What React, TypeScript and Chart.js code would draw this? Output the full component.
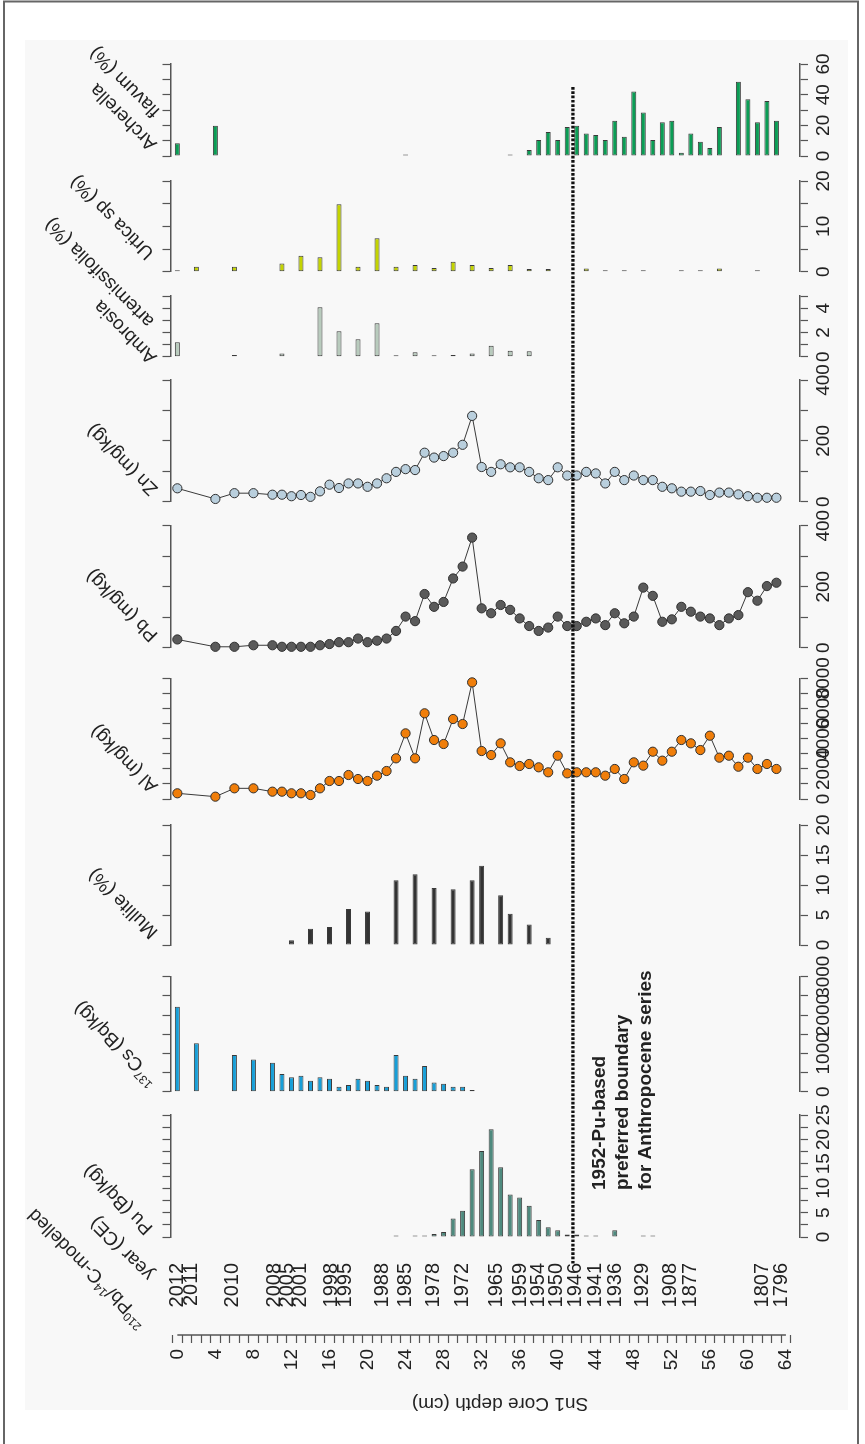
import React, { useEffect, useRef } from 'react';
import { Chart, registerables } from 'chart.js';

Chart.register(...registerables);

const FONT = '"Liberation Sans", Arial, Helvetica, sans-serif';
const TXT = '#222';
const AXIS = '#555';

// ---------------- data ----------------
// sample depths (cm) of the geochemical series (Zn, Pb, Al)
const geoDepths = [0, 4, 6, 8, 10, 11, 12, 13, 14, 15, 16, 17, 18, 19, 20, 21, 22, 23, 24, 25, 26, 27, 28, 29, 30, 31, 32, 33, 34, 35, 36, 37, 38, 39, 40, 41, 42, 43, 44, 45, 46, 47, 48, 49, 50, 51, 52, 53, 54, 55, 56, 57, 58, 59, 60, 61, 62, 63];
const znValues = [44, 9, 28, 28, 23, 23, 18, 22, 16, 34, 56, 45, 60, 60, 49, 60, 77, 98, 107, 104, 161, 145, 150, 161, 187, 282, 114, 98, 123, 113, 113, 98, 77, 71, 113, 86, 86, 98, 93, 60, 98, 71, 86, 71, 71, 49, 44, 33, 33, 35, 22, 30, 30, 24, 18, 13, 13, 13];
const pbValues = [27, 3, 3, 8, 8, 3, 3, 3, 3, 8, 12, 18, 18, 30, 18, 23, 30, 55, 102, 87, 176, 134, 150, 227, 266, 361, 129, 113, 140, 124, 96, 71, 55, 66, 102, 71, 71, 85, 96, 74, 113, 80, 102, 197, 170, 85, 93, 134, 118, 102, 96, 74, 96, 107, 182, 154, 202, 213];
const alValues = [378, 155, 707, 707, 486, 486, 378, 378, 265, 707, 1193, 1193, 1590, 1325, 1193, 1546, 1855, 2695, 4350, 2695, 5680, 3910, 3645, 5300, 4970, 7730, 3180, 2915, 3690, 2430, 2187, 2320, 2100, 1770, 2870, 1700, 1770, 1770, 1770, 1546, 1990, 1325, 2430, 2210, 3135, 2540, 3135, 3910, 3690, 3245, 4195, 2740, 2870, 2140, 2740, 1990, 2320, 1990];

const archDepths = [0, 4, 24, 35, 37, 38, 39, 40, 41, 42, 43, 44, 45, 46, 47, 48, 49, 50, 51, 52, 53, 54, 55, 56, 57, 59, 60, 61, 62, 63];
const archValues = [8.3, 19.8, 0, 0, 3.9, 10.4, 15.7, 10.4, 18.9, 19.8, 14.6, 13.7, 10.4, 23, 12.6, 42, 28.3, 10.4, 22, 23, 2.2, 14.6, 9.3, 5.2, 18.9, 48.5, 37, 22, 35.9, 23];

const urtDepths = [0, 2, 6, 11, 13, 15, 17, 19, 21, 23, 25, 27, 29, 31, 33, 35, 37, 39, 43, 45, 47, 49, 53, 55, 57, 61];
const urtValues = [0, 1.1, 1.1, 1.8, 3.5, 3.2, 14.9, 1.1, 7.4, 1.1, 1.5, 0.8, 2.2, 1.5, 0.8, 1.5, 0.6, 0.6, 0.7, 0, 0, 0, 0, 0, 0.7, 0];

const ambDepths = [0, 6, 11, 15, 17, 19, 21, 23, 25, 27, 29, 31, 33, 35, 37];
const ambValues = [1.18, 0.14, 0.27, 4.07, 2.1, 1.43, 2.75, 0, 0.36, 0, 0.14, 0.27, 0.9, 0.5, 0.45];

const mulDepths = [12, 14, 16, 18, 20, 23, 25, 27, 29, 31, 32, 34, 35, 37, 39];
const mulValues = [0.8, 2.7, 3, 6, 5.6, 10.8, 11.8, 9.5, 9.3, 10.8, 13.2, 8.3, 5.2, 3.4, 1.2];

const csDepths = [0, 2, 6, 8, 10, 11, 12, 13, 14, 15, 16, 17, 18, 19, 20, 21, 22, 23, 24, 25, 26, 27, 28, 29, 30, 31];
const csValues = [2217, 1261, 957, 843, 757, 461, 374, 417, 287, 374, 339, 130, 174, 339, 287, 174, 130, 957, 417, 339, 670, 243, 209, 130, 130, 43];

const puDepths = [23, 25, 26, 27, 28, 29, 30, 31, 32, 33, 34, 35, 36, 37, 38, 39, 40, 41, 42, 43, 44, 46, 49, 50];
const puValues = [0, 0, 0.2, 0.6, 1.0, 3.8, 5.4, 13.9, 17.6, 22.1, 14.3, 8.7, 8.1, 6.4, 3.5, 2.0, 1.4, 0.5, 0.5, 0.2, 0, 1.4, 0.2, 0.2];

// modelled ages and the depth they are written at
const yearLabels = ['2012', '2011', '2010', '2008', '2005', '2001', '1998', '1995', '1988', '1985', '1978', '1972', '1965', '1959', '1954', '1950', '1946', '1941', '1936', '1929', '1908', '1877', '1807', '1796'];
const yearDepths = [0, 1.45, 5.8, 10.2, 11.6, 13.0, 16.2, 17.7, 21.6, 24.0, 26.95, 30.0, 33.6, 36.1, 38.0, 39.9, 41.9, 44.0, 46.1, 48.9, 51.9, 54.0, 61.5, 63.5];

// depth axis ticks
const depthTicks = [0, 1, 2, 3, 4, 5, 6, 7, 8, 9, 10, 11, 12, 13, 14, 15, 16, 17, 18, 19, 20, 21, 22, 23, 24, 25, 26, 27, 28, 29, 30, 31, 32, 33, 34, 35, 36, 37, 38, 39, 40, 41, 42, 43, 44, 45, 46, 47, 48, 49, 50, 51, 52, 53, 54, 55, 56, 57, 58, 59, 60, 61, 62, 63, 64];
const depthLabels = [0, 4, 8, 12, 16, 20, 24, 28, 32, 36, 40, 44, 48, 52, 56, 60, 64];

const boundaryDepth = 41.6;

// ---------------- layout (pixels) ----------------
const X_LEFT = 170.5;
const X_RIGHT = 800;
const X_MIN = -0.72;
const X_MAX = 65.48;

const panels = [
  { id: 'arch', min: 0, max: 60, step: 10, labelStep: 20, top: 64, bottom: 156 },
  { id: 'urt', min: 0, max: 20, step: 5, labelStep: 10, top: 181, bottom: 271.7 },
  { id: 'amb', min: 0, max: 5, step: 1, labelStep: 2, top: 296, bottom: 356.7 },
  { id: 'zn', min: 0, max: 400, step: 100, labelStep: 200, top: 380, bottom: 501.7 },
  { id: 'pb', min: 0, max: 400, step: 100, labelStep: 200, top: 525.7, bottom: 647.7 },
  { id: 'al', min: 0, max: 8000, step: 1000, labelStep: 2000, top: 678.3, bottom: 799 },
  { id: 'mul', min: 0, max: 20, step: 5, labelStep: 5, top: 825, bottom: 945 },
  { id: 'cs', min: 0, max: 3000, step: 500, labelStep: 1000, top: 976.7, bottom: 1091.7 },
  { id: 'pu', min: 0, max: 25, step: 2.5, labelStep: 5, top: 1115, bottom: 1237 },
];

type Seg = { t: string; sup?: boolean };
const titles: { x: number; y: number; segs: Seg[] }[] = [
  { x: 154, y: 147, segs: [{ t: 'Archerella' }] },
  { x: 157, y: 114, segs: [{ t: 'flavum (%)' }] },
  { x: 151, y: 256, segs: [{ t: 'Urtica sp (%)' }] },
  { x: 154, y: 360, segs: [{ t: 'Ambrosia' }] },
  { x: 151, y: 324, segs: [{ t: 'artemissifolia (%)' }] },
  { x: 155, y: 492, segs: [{ t: 'Zn (mg/kg)' }] },
  { x: 155, y: 638, segs: [{ t: 'Pb (mg/kg)' }] },
  { x: 155, y: 789, segs: [{ t: 'Al (mg/kg)' }] },
  { x: 155, y: 935, segs: [{ t: 'Mullite (%)' }] },
  { x: 155, y: 1082, segs: [{ t: '137', sup: true }, { t: 'Cs (Bq/kg)' }] },
  { x: 150, y: 1231, segs: [{ t: 'Pu (Bq/kg)' }] },
  { x: 151, y: 1277, segs: [{ t: 'year (CE)' }] },
  { x: 144, y: 1324, segs: [{ t: '210', sup: true }, { t: 'Pb/' }, { t: '14', sup: true }, { t: 'C-modelled' }] },
];

const noteLines = ['1952-Pu-based', 'preferred boundary', 'for Anthropocene series'];

// ---------------- helpers ----------------
function setBox(s: any, l: number, r: number, t: number, b: number) {
  s.left = l; s.right = r; s.top = t; s.bottom = b;
  s.width = r - l; s.height = b - t;
  s.configure();
  s._gridLineItems = null;
  s._labelItems = null;
}

function richText(ctx: CanvasRenderingContext2D, segs: Seg[], x: number, y: number, angle: number, size: number) {
  ctx.save();
  ctx.translate(x, y);
  ctx.rotate(angle);
  ctx.textAlign = 'left';
  ctx.textBaseline = 'middle';
  ctx.fillStyle = TXT;
  let cx = 0;
  for (const s of segs) {
    const fs = s.sup ? Math.round(size * 0.62) : size;
    ctx.font = `${fs}px ${FONT}`;
    ctx.fillText(s.t, cx, s.sup ? -size * 0.32 : 0);
    cx += ctx.measureText(s.t).width;
  }
  ctx.restore();
}

const decorPlugin = {
  id: 'decor',
  afterLayout(chart: any) {
    setBox(chart.scales.x, X_LEFT, X_RIGHT, 1335, 1400);
    setBox(chart.scales.years, X_LEFT, X_RIGHT, 1263, 1310);
    panels.forEach((p) => {
      setBox(chart.scales[p.id + 'L'], X_LEFT - 10, X_LEFT, p.top, p.bottom);
      setBox(chart.scales[p.id + 'R'], X_RIGHT, X_RIGHT + 10, p.top, p.bottom);
    });
  },
  beforeDraw(chart: any) {
    const ctx: CanvasRenderingContext2D = chart.ctx;
    ctx.save();
    ctx.fillStyle = '#ffffff';
    ctx.fillRect(0, 0, chart.width, chart.height);
    ctx.fillStyle = '#f8f8f8';
    ctx.fillRect(25, 40, 823, 1370);
    ctx.strokeStyle = '#666';
    ctx.lineWidth = 2;
    ctx.strokeRect(4, 1.5, 854, 1450);
    ctx.restore();
  },
  afterDraw(chart: any) {
    const ctx: CanvasRenderingContext2D = chart.ctx;
    const xs = chart.scales.x;
    ctx.save();
    // right-hand value labels
    ctx.fillStyle = TXT;
    ctx.font = `19px ${FONT}`;
    ctx.textAlign = 'center';
    ctx.textBaseline = 'middle';
    panels.forEach((p) => {
      const s = chart.scales[p.id + 'R'];
      s.ticks.forEach((t: any) => {
        const q = t.value / p.labelStep;
        if (Math.abs(q - Math.round(q)) > 1e-6) return;
        const y = s.getPixelForValue(t.value);
        ctx.save();
        ctx.translate(s.left + 23.5, y);
        ctx.rotate(-Math.PI / 2);
        ctx.fillText(String(t.value), 0, 0);
        ctx.restore();
      });
    });
    // depth axis line
    ctx.strokeStyle = AXIS;
    ctx.lineWidth = 1.5;
    ctx.beginPath();
    ctx.moveTo(xs.getPixelForValue(depthTicks[0]), 1335);
    ctx.lineTo(xs.getPixelForValue(depthTicks[depthTicks.length - 1]), 1335);
    ctx.stroke();
    // depth axis title (upside down)
    ctx.save();
    ctx.translate(500, 1403);
    ctx.rotate(Math.PI);
    ctx.font = `19px ${FONT}`;
    ctx.textAlign = 'center';
    ctx.textBaseline = 'middle';
    ctx.fillText('Sn1 Core depth (cm)', 0, 0);
    ctx.restore();
    // panel titles
    titles.forEach((tt) => richText(ctx, tt.segs, tt.x, tt.y, -3 * Math.PI / 4, 19));
    // boundary line
    const bx = xs.getPixelForValue(boundaryDepth);
    ctx.strokeStyle = '#111';
    ctx.lineWidth = 3.3;
    ctx.setLineDash([2.7, 1.6]);
    ctx.beginPath();
    ctx.moveTo(bx, 87);
    ctx.lineTo(bx, 1265);
    ctx.stroke();
    ctx.setLineDash([]);
    // annotation
    ctx.font = `bold 19px ${FONT}`;
    ctx.textAlign = 'left';
    ctx.textBaseline = 'middle';
    noteLines.forEach((line, i) => {
      ctx.save();
      ctx.translate(600 + i * 23, 1190);
      ctx.rotate(-Math.PI / 2);
      ctx.fillText(line, 0, 0);
      ctx.restore();
    });
    ctx.restore();
  },
};

function pts(depths: number[], values: number[]) {
  return depths.map((d, i) => ({ x: d, y: values[i] }));
}

function lineDs(depths: number[], values: number[], yAxisID: string, color: string) {
  return {
    type: 'line' as const,
    data: pts(depths, values),
    xAxisID: 'x',
    yAxisID,
    borderColor: '#3a3a3a',
    borderWidth: 1,
    pointRadius: 4.6,
    pointBackgroundColor: color,
    pointBorderColor: '#303030',
    pointBorderWidth: 1,
    tension: 0,
    fill: false,
    clip: false as const,
  };
}

function barDs(depths: number[], values: number[], yAxisID: string, color: string) {
  return {
    type: 'bar' as const,
    data: pts(depths, values),
    xAxisID: 'x',
    yAxisID,
    backgroundColor: color,
    borderColor: '#3a3a3a',
    borderWidth: 1,
    borderSkipped: false as const,
    maxBarThickness: 5,
    grouped: false,
    minBarLength: 1.5,
    clip: false as const,
  };
}

function buildScales() {
  const scales: any = {
    x: {
      type: 'linear',
      axis: 'x',
      position: 'bottom',
      min: X_MIN,
      max: X_MAX,
      offset: false,
      afterBuildTicks: (s: any) => { s.ticks = depthTicks.map((v) => ({ value: v })); },
      ticks: {
        autoSkip: false,
        minRotation: 90,
        maxRotation: 90,
        padding: 6,
        color: TXT,
        font: { family: FONT, size: 19 },
        callback: (v: any) => (depthLabels.includes(Number(v)) ? String(v) : ''),
      },
      grid: { display: true, drawOnChartArea: false, drawTicks: true, tickLength: 8, tickColor: AXIS, tickWidth: 1.2 },
      border: { display: false },
    },
    years: {
      type: 'linear',
      axis: 'x',
      position: 'bottom',
      min: X_MIN,
      max: X_MAX,
      offset: false,
      afterBuildTicks: (s: any) => { s.ticks = yearDepths.map((v) => ({ value: v })); },
      ticks: {
        autoSkip: false,
        minRotation: 90,
        maxRotation: 90,
        padding: 0,
        color: TXT,
        font: { family: FONT, size: 20 },
        callback: (_v: any, i: number) => yearLabels[i],
      },
      grid: { display: false, drawTicks: false },
      border: { display: false },
    },
  };
  panels.forEach((p) => {
    const common = {
      type: 'linear',
      axis: 'y',
      min: p.min,
      max: p.max,
      ticks: { stepSize: p.step, display: false },
      grid: { display: true, drawOnChartArea: false, drawTicks: true, tickLength: 8, tickColor: AXIS, tickWidth: 1.2 },
      border: { display: true, color: AXIS, width: 1.5 },
      afterFit: (s: any) => { s.width = 0; },
    };
    scales[p.id + 'L'] = { ...common, position: 'left' };
    scales[p.id + 'R'] = { ...common, position: 'right' };
  });
  return scales;
}

export default function App() {
  const ref = useRef<HTMLCanvasElement | null>(null);
  useEffect(() => {
    if (!ref.current) return;
    const chart = new Chart(ref.current, {
      type: 'line',
      data: {
        datasets: [
          barDs(archDepths, archValues, 'archL', '#0b9d55'),
          barDs(urtDepths, urtValues, 'urtL', '#c4d400'),
          barDs(ambDepths, ambValues, 'ambL', '#b8cbbd'),
          lineDs(geoDepths, znValues, 'znL', '#b9cfdd'),
          lineDs(geoDepths, pbValues, 'pbL', '#5a5a5a'),
          lineDs(geoDepths, alValues, 'alL', '#f07e0a'),
          barDs(mulDepths, mulValues, 'mulL', '#333333'),
          barDs(csDepths, csValues, 'csL', '#179fd8'),
          barDs(puDepths, puValues, 'puL', '#4e8a7e'),
        ] as any,
      },
      options: {
        animation: false,
        responsive: false,
        devicePixelRatio: 1,
        events: [],
        layout: { padding: 0 },
        plugins: { legend: { display: false }, tooltip: { enabled: false }, title: { display: false } },
        scales: buildScales(),
      } as any,
      plugins: [decorPlugin as any],
    });
    return () => chart.destroy();
  }, []);
  return (
    <div style={{ position: 'absolute', left: 0, top: 0, width: 865, height: 1444 }}>
      <canvas ref={ref} width={865} height={1444} style={{ width: 865, height: 1444, display: 'block' }} />
    </div>
  );
}
